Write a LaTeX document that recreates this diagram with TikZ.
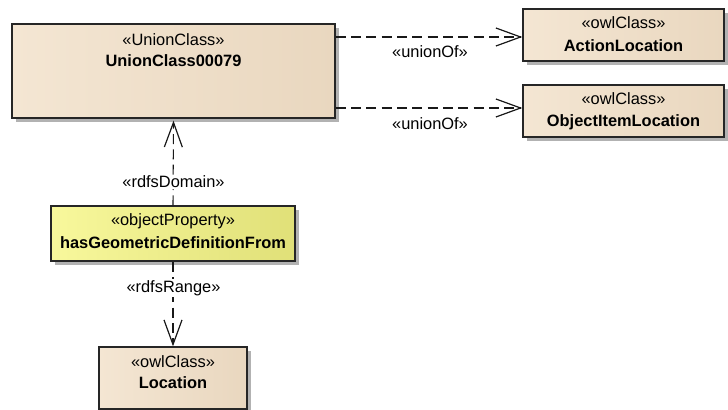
\documentclass[tikz,border=0pt]{standalone}
\usepackage{fontspec}
\setmainfont{Liberation Sans}
\usetikzlibrary{arrows.meta,shadows}
\definecolor{tanA}{HTML}{F4E6D3}
\definecolor{tanB}{HTML}{F9EFE1}
\definecolor{tanC}{HTML}{E9D7BF}
\definecolor{yelA}{HTML}{F8F89C}
\definecolor{yelB}{HTML}{F4F48E}
\definecolor{yelC}{HTML}{E0E078}
\begin{document}
\begin{tikzpicture}[x=0.75pt,y=-0.75pt,
  umlbox/.style={draw=black!85, line width=1pt, inner sep=0pt,
    general shadow={fill=black!30, shadow xshift=3pt, shadow yshift=-3pt},
    left color=tanA, middle color=tanB, right color=tanC},
  propbox/.style={umlbox, left color=yelA, middle color=yelB, right color=yelC},
  stereo/.style={inner sep=0pt, font=\fontsize{12.3}{14}\selectfont},
  title/.style={inner sep=0pt, font=\fontsize{12.3}{14}\selectfont\bfseries},
  lbl/.style={inner sep=1pt, font=\fontsize{12.3}{14}\selectfont},
  dep/.style={draw=black!90, line width=0.8pt, dash pattern=on 7.5pt off 4pt,
    -{Straight Barb[length=18.5pt, width=13.5pt, line width=0.9pt]}}
]
\useasboundingbox (0,0) rectangle (728,410);

% boxes
\node[umlbox, minimum width=323*0.75pt, minimum height=94*0.75pt] (u) at (173.5,71) {};
\node[stereo] (ust) at (173.5,39.5) {«UnionClass»};
\node[title]  (unm) at (173.5,61) {UnionClass00079};

\node[umlbox, minimum width=201*0.75pt, minimum height=52*0.75pt] (a) at (623.5,35) {};
\node[stereo] (ast) at (623.5,23) {«owlClass»};
\node[title]  (anm) at (623.5,46) {ActionLocation};

\node[umlbox, minimum width=201*0.75pt, minimum height=52*0.75pt] (o) at (623.5,111) {};
\node[stereo] (ost) at (623.5,99) {«owlClass»};
\node[title]  (onm) at (623.5,122) {ObjectItemLocation};

\node[propbox, minimum width=244*0.75pt, minimum height=55*0.75pt] (p) at (173,233.5) {};
\node[stereo] (pst) at (173,221) {«objectProperty»};
\node[title]  (pnm) at (173,242.5) {hasGeometricDefinitionFrom};

\node[umlbox, minimum width=148*0.75pt, minimum height=62*0.75pt] (l) at (173,378) {};
\node[stereo] (lst) at (173,362) {«owlClass»};
\node[title]  (lnm) at (173,383) {Location};

% connectors
\draw[dep] ([yshift=-1.5pt]u.east |- a.west) -- ([yshift=-1.5pt]a.west);
\draw[dep] ([yshift=2.25pt]u.east |- o.west) -- ([yshift=2.25pt]o.west);
\node[lbl] (l1) at (430,52) {«unionOf»};
\node[lbl] (l2) at (430,124) {«unionOf»};

\draw[dep] (p.north) -- ([yshift=-1.5pt]u.south);
\node[lbl, fill=white] (l3) at (173.5,182) {«rdfsDomain»};

\draw[dep] (p.south) -- (l.north);
\node[lbl, fill=white] (l4) at (173.5,288) {«rdfsRange»};
\end{tikzpicture}
\end{document}
